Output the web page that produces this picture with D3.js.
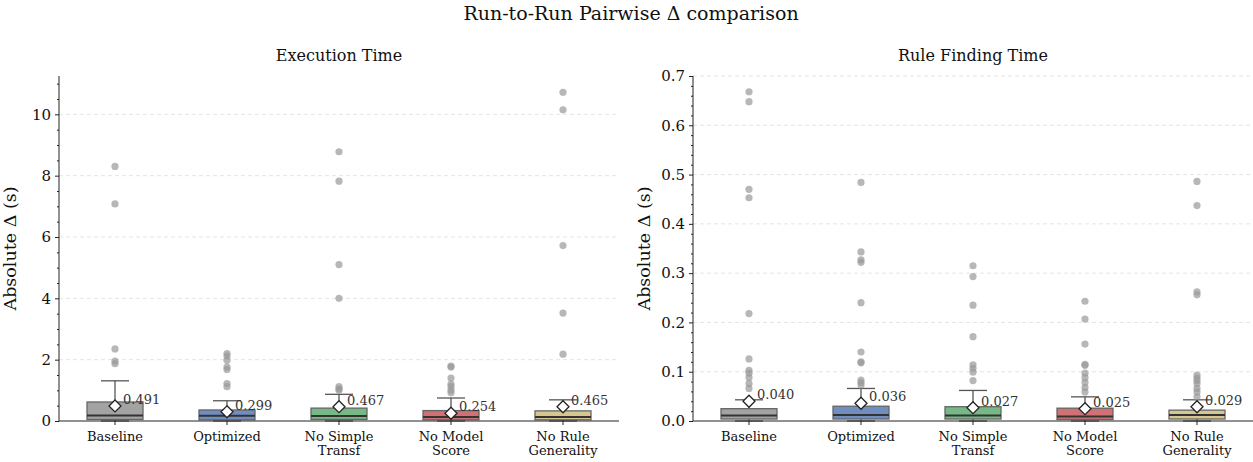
<!DOCTYPE html>
<html>
<head>
<meta charset="utf-8">
<script src="https://cdn.jsdelivr.net/npm/d3@7"></script>
<style>
  body { margin: 0; background: #fff; }
  svg { font-family: "DejaVu Serif", serif; }
</style>
</head>
<body>
<div id="chart"></div>
<script>
// categories shared by both panels
const categories = ["Baseline", "Optimized", "No Simple\nTransf", "No Model\nScore", "No Rule\nGenerality"];
const colors = ["#8c8c8c", "#4c72b0", "#55a868", "#c44e52", "#ccb974"];

// Execution Time
const execQ1 = [0.05, 0.04, 0.05, 0.04, 0.04];
const execMedian = [0.18, 0.17, 0.16, 0.13, 0.13];
const execQ3 = [0.62, 0.36, 0.42, 0.34, 0.33];
const execLo = [0, 0, 0, 0, 0];
const execHi = [1.31, 0.66, 0.87, 0.75, 0.69];
const execMean = [0.491, 0.299, 0.467, 0.254, 0.465];
const execOutliers = [
    [8.3, 7.08, 2.35, 1.95, 1.87],
    [2.2, 2.12, 1.98, 1.76, 1.68, 1.22, 1.12],
    [8.78, 7.82, 5.1, 4.0, 1.12, 1.05, 1.0],
    [1.79, 1.76, 1.4, 1.2, 1.12, 1.0, 0.92],
    [10.72, 10.15, 5.72, 3.52, 2.18]
];

// Rule Finding Time
const ruleQ1 = [0.004, 0.004, 0.004, 0.003, 0.004];
const ruleMedian = [0.011, 0.012, 0.011, 0.009, 0.012];
const ruleQ3 = [0.025, 0.030, 0.029, 0.026, 0.022];
const ruleLo = [0, 0, 0, 0, 0];
const ruleHi = [0.043, 0.066, 0.062, 0.049, 0.043];
const ruleMean = [0.040, 0.036, 0.027, 0.025, 0.029];
const ruleOutliers = [
    [0.668, 0.648, 0.47, 0.453, 0.218, 0.126, 0.103, 0.097, 0.088, 0.076, 0.066],
    [0.484, 0.343, 0.327, 0.322, 0.24, 0.14, 0.12, 0.118, 0.083, 0.078, 0.073],
    [0.315, 0.293, 0.235, 0.171, 0.114, 0.107, 0.099, 0.082],
    [0.243, 0.207, 0.156, 0.115, 0.113, 0.097, 0.088, 0.078, 0.068, 0.059],
    [0.486, 0.437, 0.262, 0.256, 0.093, 0.087, 0.082, 0.076, 0.066, 0.059, 0.049]
];

const W = 1253, H = 462;
const svg = d3.select("#chart").append("svg")
    .attr("width", W).attr("height", H);

svg.append("text")
    .attr("x", 631).attr("y", 20)
    .attr("text-anchor", "middle")
    .attr("font-size", "19px")
    .attr("fill", "#111")
    .text("Run-to-Run Pairwise \u0394 comparison");

function panel(opts) {
    const { x0, x1, title, q1, med, q3, lo, hi, mean, outliers,
            domainMax, majorTicks, minorTicks, fmt, meanFmt } = opts;
    const top = 76, bottom = 421;

    const x = d3.scaleBand().domain(categories).range([x0, x1]).padding(0);
    const y = d3.scaleLinear().domain([0, domainMax]).range([bottom, top]);
    const g = svg.append("g");

    // grid
    g.selectAll("line.grid")
        .data(majorTicks.filter(t => t > 0))
        .enter().append("line")
        .attr("x1", x0).attr("x2", x1)
        .attr("y1", d => y(d)).attr("y2", d => y(d))
        .attr("stroke", "#dddddd")
        .attr("stroke-width", 0.8)
        .attr("stroke-dasharray", "4,3");

    const half = x.bandwidth() * 0.25;   // half of the box width
    const cap = half / 2;

    categories.forEach((c, i) => {
        const cx = x(c) + x.bandwidth() / 2;

        // whiskers
        [[q3[i], hi[i]], [q1[i], lo[i]]].forEach(([a, b]) => {
            g.append("line")
                .attr("x1", cx).attr("x2", cx)
                .attr("y1", y(a)).attr("y2", y(b))
                .attr("stroke", "#555").attr("stroke-width", 1.3);
            g.append("line")
                .attr("x1", cx - cap).attr("x2", cx + cap)
                .attr("y1", y(b)).attr("y2", y(b))
                .attr("stroke", "#555").attr("stroke-width", 1.3);
        });

        // box
        g.append("rect")
            .attr("x", cx - half).attr("width", half * 2)
            .attr("y", y(q3[i])).attr("height", y(q1[i]) - y(q3[i]))
            .attr("fill", colors[i]).attr("fill-opacity", 0.8)
            .attr("stroke", "#666").attr("stroke-width", 1.3);

        // median
        g.append("line")
            .attr("x1", cx - half).attr("x2", cx + half)
            .attr("y1", y(med[i])).attr("y2", y(med[i]))
            .attr("stroke", "#333").attr("stroke-width", 2);

        // outliers
        g.selectAll(null)
            .data(outliers[i])
            .enter().append("circle")
            .attr("cx", cx).attr("cy", d => y(d))
            .attr("r", 3.6)
            .attr("fill", "#999").attr("fill-opacity", 0.7);

        // mean diamond
        const my = y(mean[i]);
        g.append("path")
            .attr("d", `M${cx},${my - 6}L${cx + 6},${my}L${cx},${my + 6}L${cx - 6},${my}Z`)
            .attr("fill", "#fff").attr("stroke", "#222").attr("stroke-width", 1.3);
        g.append("text")
            .attr("x", cx + 8).attr("y", my - 2)
            .attr("font-size", "13px")
            .attr("fill", "#333")
            .text(meanFmt(mean[i]));
    });

    // y axis
    const yAxis = g.append("g")
        .attr("transform", `translate(${x0},0)`)
        .call(d3.axisLeft(y).tickValues(majorTicks).tickFormat(fmt).tickSize(4).tickPadding(4));
    yAxis.selectAll("text").attr("font-size", "15px").attr("fill", "#111")
        .attr("font-family", "DejaVu Serif, serif");
    yAxis.select(".domain").attr("d", `M0,${top}V${bottom}`).attr("stroke", "#222");
    yAxis.selectAll(".tick line").attr("stroke", "#222");
    g.append("g")
        .attr("transform", `translate(${x0},0)`)
        .call(d3.axisLeft(y).tickValues(minorTicks).tickFormat("").tickSize(2))
        .call(a => a.select(".domain").remove())
        .selectAll("line").attr("stroke", "#222");

    // x axis
    const xAxis = g.append("g")
        .attr("transform", `translate(0,${bottom})`)
        .call(d3.axisBottom(x).tickSize(4).tickFormat(""));
    xAxis.select(".domain").attr("d", `M${x0},0H${x1}`).attr("stroke", "#222");
    xAxis.selectAll(".tick line").attr("stroke", "#222");
    categories.forEach(c => {
        const cx = x(c) + x.bandwidth() / 2;
        const lines = c.split("\n");
        const t = g.append("text")
            .attr("x", cx).attr("y", bottom + 20)
            .attr("text-anchor", "middle")
            .attr("font-size", "13px")
            .attr("fill", "#111");
        lines.forEach((l, k) => {
            t.append("tspan").attr("x", cx).attr("dy", k === 0 ? 0 : 14).text(l);
        });
    });

    // titles
    g.append("text")
        .attr("x", (x0 + x1) / 2).attr("y", 61)
        .attr("text-anchor", "middle")
        .attr("font-size", "16px")
        .attr("fill", "#111")
        .text(title);
    g.append("text")
        .attr("transform", `translate(${x0 - 43},${(top + bottom) / 2}) rotate(-90)`)
        .attr("text-anchor", "middle")
        .attr("font-size", "17.5px")
        .attr("fill", "#111")
        .text("Absolute \u0394 (s)");
}

panel({
    x0: 59, x1: 619, title: "Execution Time",
    q1: execQ1, med: execMedian, q3: execQ3, lo: execLo, hi: execHi,
    mean: execMean, outliers: execOutliers,
    domainMax: 11.25,
    majorTicks: d3.range(0, 11, 2),
    minorTicks: d3.range(0, 11.01, 0.5).filter(v => v % 2 !== 0),
    fmt: d3.format("d"),
    meanFmt: d3.format(".3f")
});

panel({
    x0: 693, x1: 1253, title: "Rule Finding Time",
    q1: ruleQ1, med: ruleMedian, q3: ruleQ3, lo: ruleLo, hi: ruleHi,
    mean: ruleMean, outliers: ruleOutliers,
    domainMax: 0.7,
    majorTicks: d3.range(0, 0.71, 0.1).map(v => +v.toFixed(1)),
    minorTicks: d3.range(0, 36).map(k => +(k * 0.02).toFixed(2)).filter(v => Math.round(v * 100) % 10 !== 0),
    fmt: d3.format(".1f"),
    meanFmt: d3.format(".3f")
});
</script>
</body>
</html>
